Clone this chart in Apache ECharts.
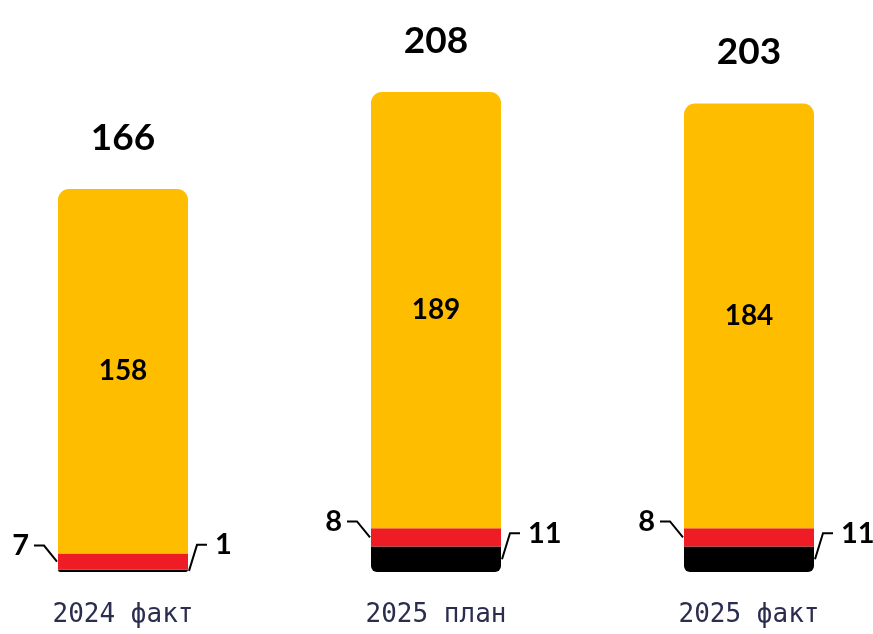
<!DOCTYPE html>
<html>
<head>
<meta charset="utf-8">
<script src="https://cdn.jsdelivr.net/npm/echarts@6/dist/echarts.min.js"></script>
<style>
  html, body { margin: 0; padding: 0; background: #fff; }
  #chart { width: 873px; height: 634px; }
</style>
</head>
<body>
<div id="chart"></div>
<script>
  // данные
  var categories = ['2024 факт', '2025 план', '2025 факт'];
  var blackValues = [1, 11, 11];
  var redValues = [7, 8, 8];
  var yellowValues = [158, 189, 184];
  var totals = [166, 208, 203];

  var halfBar = 65;
  var numFont = 'Lato';

  // подписи сбоку с выносками + итог сверху
  function renderLabels(params, api) {
    var i = params.dataIndex;
    var b = blackValues[i], r = redValues[i];
    var redMid = api.coord([i, b + r / 2]);
    var blackMid = api.coord([i, b / 2]);
    var top = api.coord([i, totals[i]]);
    var xl = redMid[0] - halfBar, xr = redMid[0] + halfBar;
    var ly = redMid[1] - 16, ry = blackMid[1] - 26;
    var lineStyle = { stroke: '#000', lineWidth: 2, fill: null };
    var txt = function (t, x, y, align, size) {
      return {
        type: 'text', x: x, y: y,
        style: {
          text: t, align: align, verticalAlign: 'middle',
          fill: '#000', fontFamily: numFont, fontWeight: 'bold', fontSize: size
        }
      };
    };
    return {
      type: 'group',
      children: [
        { type: 'polyline', shape: { points: [[xl - 1, redMid[1]], [xl - 14, ly], [xl - 24, ly]] }, style: lineStyle },
        txt(String(r), xl - 29, ly, 'right', 29),
        { type: 'polyline', shape: { points: [[xr + 1, blackMid[1]], [xr + 9, ry], [xr + 19, ry]] }, style: lineStyle },
        txt(String(b), xr + 27, ry, 'left', 29),
        txt(String(totals[i]), top[0], top[1] - 51, 'center', 37)
      ]
    };
  }

  var chart = echarts.init(document.getElementById('chart'));
  chart.setOption({
    animation: false,
    grid: { left: 123, right: 124, top: 92, bottom: 62 },
    xAxis: {
      type: 'category',
      data: categories,
      boundaryGap: false,
      axisLine: { show: false },
      axisTick: { show: false },
      axisLabel: {
        margin: 30,
        fontFamily: 'DejaVu Sans Mono',
        fontSize: 26,
        color: '#2b2d4f'
      }
    },
    yAxis: { type: 'value', min: 0, max: 208, show: false, splitLine: { show: false } },
    series: [
      {
        name: 'black', type: 'bar', stack: 'all', barWidth: 130, clip: false,
        data: blackValues,
        itemStyle: { color: '#000', borderRadius: [0, 0, 6, 6] }
      },
      {
        name: 'red', type: 'bar', stack: 'all', barWidth: 130, clip: false,
        data: redValues,
        itemStyle: { color: '#ee1c25' }
      },
      {
        name: 'yellow', type: 'bar', stack: 'all', barWidth: 130, clip: false,
        data: yellowValues,
        itemStyle: { color: '#ffbd00', borderRadius: [11, 11, 0, 0] },
        label: {
          show: true, position: 'inside', color: '#000',
          fontFamily: numFont, fontWeight: 'bold', fontSize: 28
        }
      },
      {
        type: 'custom',
        renderItem: renderLabels,
        data: categories.map(function (c, i) { return [i, totals[i]]; }),
        z: 5
      }
    ]
  });
</script>
</body>
</html>
